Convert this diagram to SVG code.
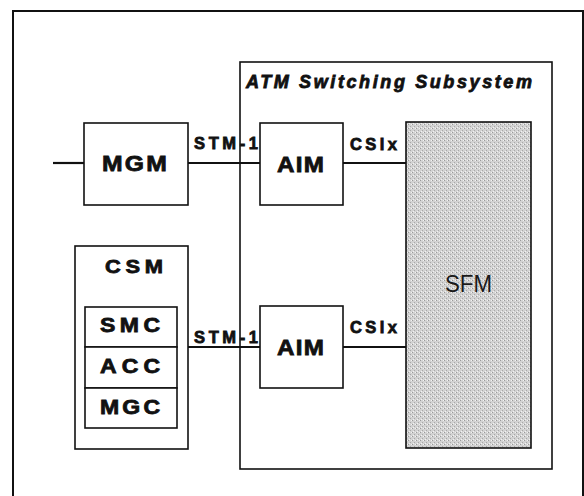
<svg xmlns="http://www.w3.org/2000/svg" width="584" height="496" viewBox="0 0 584 496">
<style>
.box{fill:#fff;stroke:#111;stroke-width:1.6}
.frame{fill:none;stroke:#111;stroke-width:2}
.line{stroke:#111;stroke-width:2.2;fill:none}
.lbl{font-family:"Liberation Sans",Arial,sans-serif;font-weight:bold;fill:#111;stroke:#111;stroke-width:0.8}
.big{font-size:22px}
.mid{font-size:20px}
.sm{font-size:16.5px}
</style>
<defs>
<pattern id="stip" width="4" height="4" patternUnits="userSpaceOnUse">
<rect width="4" height="4" fill="#d2d2d2"/>
<rect x="0" y="0" width="1" height="1" fill="#9a9a9a"/>
<rect x="2" y="2" width="1" height="1" fill="#a8a8a8"/>
<rect x="3" y="0" width="1" height="1" fill="#f2f2f2"/>
<rect x="1" y="3" width="1" height="1" fill="#f2f2f2"/>
</pattern>
</defs>
<rect width="584" height="496" fill="#fff"/>
<path class="frame" d="M13,500 V11 H583 V500"/>
<g id="atm">
<rect class="box" x="240" y="62" width="312" height="407"/>
<text class="lbl" x="246" y="87.5" font-size="18" font-style="italic" textLength="286" lengthAdjust="spacing">ATM Switching Subsystem</text>
</g>
<g id="connectors">
<line class="line" x1="53" y1="163" x2="84" y2="163"/>
<line class="line" x1="188" y1="163" x2="260" y2="163"/>
<line class="line" x1="343" y1="163" x2="406" y2="163"/>
<line class="line" x1="188" y1="347" x2="260" y2="347"/>
<line class="line" x1="343" y1="347" x2="406" y2="347"/>
<text class="lbl sm" x="194" y="149" textLength="64" lengthAdjust="spacing">STM-1</text>
<text class="lbl sm" x="194" y="343" textLength="64" lengthAdjust="spacing">STM-1</text>
<text class="lbl sm" x="350" y="150" textLength="47" lengthAdjust="spacing">CSIx</text>
<text class="lbl sm" x="350" y="333" textLength="47" lengthAdjust="spacing">CSIx</text>
</g>
<g id="mgm">
<rect class="box" x="84" y="123" width="104" height="82"/>
<text class="lbl" transform="translate(102,171) scale(1.1,1)" x="0" y="0" font-size="22.5" textLength="59" lengthAdjust="spacing">MGM</text>
</g>
<g id="aim1">
<rect class="box" x="260" y="123" width="83" height="82"/>
<text class="lbl big" transform="translate(277,172) scale(1.1,1)" x="0" y="0" textLength="42.7" lengthAdjust="spacing">AIM</text>
</g>
<g id="aim2">
<rect class="box" x="260" y="306" width="83" height="82"/>
<text class="lbl big" transform="translate(277,355) scale(1.1,1)" x="0" y="0" textLength="42.7" lengthAdjust="spacing">AIM</text>
</g>
<g id="sfm">
<rect x="406" y="122" width="125" height="326" fill="url(#stip)" stroke="#111" stroke-width="1.6"/>
<text x="445" y="292" font-family="'Liberation Sans',Arial,sans-serif" font-size="23" fill="#1a1a1a" textLength="47" lengthAdjust="spacingAndGlyphs">SFM</text>
</g>
<g id="csm">
<rect class="box" x="75" y="246" width="113" height="203"/>
<text class="lbl" transform="translate(105,273) scale(1.15,1)" x="0" y="0" font-size="19" textLength="50.4" lengthAdjust="spacing">CSM</text>
</g>
<g id="smc">
<rect class="box" x="85" y="307" width="92" height="40"/>
<text class="lbl mid" transform="translate(100,332) scale(1.15,1)" x="0" y="0" textLength="52.2" lengthAdjust="spacing">SMC</text>
</g>
<g id="acc">
<rect class="box" x="85" y="347" width="92" height="41"/>
<text class="lbl mid" transform="translate(100,373) scale(1.15,1)" x="0" y="0" textLength="52.2" lengthAdjust="spacing">ACC</text>
</g>
<g id="mgc">
<rect class="box" x="85" y="388" width="92" height="40"/>
<text class="lbl mid" transform="translate(100,414) scale(1.15,1)" x="0" y="0" textLength="52.2" lengthAdjust="spacing">MGC</text>
</g>
</svg>
